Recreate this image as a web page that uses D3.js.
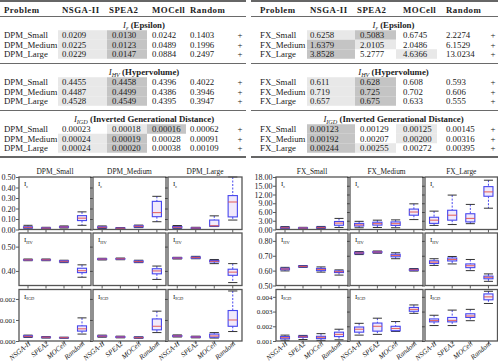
<!DOCTYPE html>
<html>
<head>
<meta charset="utf-8">
<title>DPM / FX indicators</title>
<style>
  body { margin: 0; background: #fff; }
  svg { display: block; }
  text { font-family: "Liberation Serif", "DejaVu Serif", serif; fill: #222; }
</style>
</head>
<body>
<div id="chart"></div>
<script src="https://cdnjs.cloudflare.com/ajax/libs/d3/7.8.5/d3.min.js"></script>
<script>
var algorithms = ["NSGA-II", "SPEA2", "MOCell", "Random"];
var dpmProblems = ["DPM_Small", "DPM_Medium", "DPM_Large"];
var fxProblems = ["FX_Small", "FX_Medium", "FX_Large"];
var indicatorSubs = ["\u03b5", "HV", "IGD"];
var indicatorNames = ["(Epsilon)", "(Hypervolume)", "(Inverted Generational Distance)"];
var lowerIsBetter = [true, false, true];

// table values, one row per problem, one value per algorithm
var dpmEpsilon = [["0.0209", "0.0130", "0.0242", "0.1403"],
                  ["0.0225", "0.0123", "0.0489", "0.1996"],
                  ["0.0229", "0.0147", "0.0884", "0.2497"]];
var dpmHypervolume = [["0.4455", "0.4458", "0.4396", "0.4022"],
                      ["0.4487", "0.4499", "0.4386", "0.3946"],
                      ["0.4528", "0.4549", "0.4395", "0.3947"]];
var dpmIGD = [["0.00023", "0.00018", "0.00016", "0.00062"],
              ["0.00024", "0.00019", "0.00028", "0.00091"],
              ["0.00024", "0.00020", "0.00038", "0.00109"]];
var fxEpsilon = [["0.6258", "0.5083", "0.6745", "2.2274"],
                 ["1.6379", "2.0105", "2.0486", "6.1529"],
                 ["3.8528", "5.2777", "4.6366", "13.0234"]];
var fxHypervolume = [["0.611", "0.628", "0.608", "0.593"],
                     ["0.719", "0.725", "0.702", "0.606"],
                     ["0.657", "0.675", "0.633", "0.555"]];
var fxIGD = [["0.00123", "0.00129", "0.00125", "0.00145"],
             ["0.00192", "0.00207", "0.00200", "0.00316"],
             ["0.00244", "0.00255", "0.00272", "0.00395"]];

// boxplots: [low whisker, q1, median, q3, high whisker] per algorithm, per problem
var dpmEpsBoxes = [
  [[0.006, 0.014, 0.020, 0.026, 0.040], [0.006, 0.010, 0.013, 0.016, 0.021], [0.014, 0.020, 0.024, 0.028, 0.034], [0.040, 0.085, 0.108, 0.132, 0.168]],
  [[0.010, 0.016, 0.021, 0.026, 0.034], [0.006, 0.009, 0.012, 0.015, 0.019], [0.018, 0.024, 0.030, 0.036, 0.042], [0.074, 0.122, 0.161, 0.268, 0.316]],
  [[0.008, 0.015, 0.021, 0.028, 0.038], [0.007, 0.010, 0.014, 0.017, 0.021], [0.028, 0.032, 0.036, 0.090, 0.130], [0.090, 0.120, 0.262, 0.323, 0.500]]];
var dpmHVBoxes = [
  [[0.442, 0.4445, 0.4455, 0.4465, 0.449], [0.442, 0.4445, 0.4458, 0.447, 0.449], [0.434, 0.437, 0.4396, 0.442, 0.444], [0.374, 0.393, 0.401, 0.411, 0.425]],
  [[0.445, 0.447, 0.4487, 0.450, 0.452], [0.446, 0.4485, 0.4499, 0.451, 0.453], [0.434, 0.4365, 0.4386, 0.441, 0.444], [0.365, 0.388, 0.400, 0.409, 0.420]],
  [[0.449, 0.451, 0.4528, 0.4545, 0.456], [0.450, 0.4525, 0.4549, 0.457, 0.460], [0.430, 0.437, 0.4395, 0.443, 0.447], [0.352, 0.382, 0.395, 0.407, 0.430]]];
var dpmIGDBoxes = [
  [[0.00017, 0.00020, 0.00022, 0.00025, 0.00028], [0.00014, 0.00016, 0.00018, 0.00019, 0.00021], [0.00013, 0.00015, 0.00016, 0.00017, 0.00018], [0.00033, 0.00047, 0.00058, 0.00072, 0.00110]],
  [[0.00018, 0.00021, 0.00023, 0.00025, 0.00028], [0.00015, 0.00017, 0.00019, 0.00021, 0.00023], [0.00013, 0.00015, 0.00016, 0.00018, 0.00020], [0.00040, 0.00053, 0.00070, 0.00105, 0.00142]],
  [[0.00019, 0.00022, 0.00024, 0.00026, 0.00029], [0.00015, 0.00017, 0.00019, 0.00021, 0.00023], [0.00014, 0.00018, 0.00024, 0.00033, 0.00040], [0.00045, 0.00070, 0.00100, 0.00145, 0.00238]]];
var fxEpsBoxes = [
  [[0.30, 0.45, 0.60, 0.75, 1.00], [0.30, 0.40, 0.50, 0.60, 0.75], [0.35, 0.50, 0.65, 0.80, 1.05], [0.70, 1.45, 2.20, 2.75, 3.80]],
  [[0.60, 1.20, 1.60, 2.10, 2.80], [0.70, 1.50, 2.00, 2.50, 3.20], [0.60, 1.40, 2.00, 2.60, 3.30], [3.40, 4.90, 6.00, 7.00, 8.80]],
  [[1.40, 2.10, 3.20, 4.20, 6.30], [1.70, 3.20, 4.90, 6.60, 11.80], [2.00, 2.60, 3.80, 5.40, 8.60], [7.30, 11.40, 12.90, 14.70, 16.90]]];
var fxHVBoxes = [
  [[0.598, 0.606, 0.611, 0.616, 0.622], [0.622, 0.625, 0.628, 0.631, 0.634], [0.590, 0.600, 0.608, 0.615, 0.625], [0.570, 0.587, 0.593, 0.598, 0.605]],
  [[0.708, 0.714, 0.719, 0.723, 0.728], [0.717, 0.721, 0.725, 0.728, 0.732], [0.680, 0.693, 0.702, 0.710, 0.720], [0.597, 0.602, 0.606, 0.609, 0.614]],
  [[0.635, 0.648, 0.657, 0.666, 0.680], [0.645, 0.665, 0.675, 0.685, 0.695], [0.600, 0.620, 0.633, 0.645, 0.675], [0.528, 0.545, 0.555, 0.563, 0.578]]];
var fxIGDBoxes = [
  [[0.00105, 0.00115, 0.00123, 0.00130, 0.00140], [0.00110, 0.00125, 0.00129, 0.00133, 0.00138], [0.00104, 0.00116, 0.00125, 0.00132, 0.00150], [0.00108, 0.00130, 0.00145, 0.00160, 0.00180]],
  [[0.00140, 0.00160, 0.00180, 0.00195, 0.00220], [0.00145, 0.00167, 0.00200, 0.00222, 0.00255], [0.00165, 0.00170, 0.00185, 0.00200, 0.00232], [0.00288, 0.00302, 0.00315, 0.00328, 0.00345]],
  [[0.00205, 0.00230, 0.00239, 0.00250, 0.00275], [0.00205, 0.00230, 0.00240, 0.00260, 0.00310], [0.00238, 0.00260, 0.00270, 0.00285, 0.00315], [0.00355, 0.00380, 0.00400, 0.00420, 0.00438]]];

// y axes of the three indicator rows
var dpmDomains = [[0, 0.5], [0.34, 0.556], [0, 0.00245]];
var dpmTicks = [[0, 0.1, 0.2, 0.3, 0.4, 0.5], [0.4, 0.5], [0, 0.001, 0.002]];
var fxDomains = [[0, 18], [0.5, 0.853], [0.001, 0.0045]];
var fxTicks = [[0, 3, 6, 9, 12, 15, 18], [0.5, 0.6, 0.7, 0.8], [0.001, 0.002, 0.003, 0.004]];
var tickFormats = [".2f", ".2f", ".3f"];

var width = 498, height = 361;
var svg = d3.select("#chart").append("svg")
    .attr("width", width)
    .attr("height", height);

var best = "#c4c4c4", second = "#e8e8e8";
var boxBlue = "#4646ee", medRed = "#e2524c";

// ---------- tables ----------
var headerY = 9.5, sectionTops = [16.5, 63.5, 110.5], sectionH = 46.5, rowStep = 9.5;

function drawTable(x0, x1, problems, tables, cellX, textX, labelX, plusX) {
  var g = svg.append("g");
  var titleCx = (cellX[0] + cellX[4]) / 2;

  g.append("line").attr("x1", x0).attr("x2", x1).attr("y1", 1).attr("y2", 1)
   .attr("stroke", "#333").attr("stroke-width", 1.4);

  g.append("text").attr("x", labelX).attr("y", headerY).attr("dy", "0.35em")
   .attr("font-size", 8.8).attr("font-weight", "bold").attr("letter-spacing", 0.5)
   .text("Problem");
  algorithms.forEach(function(a, i) {
    g.append("text").attr("x", textX[i] + (i == 1 ? -3 : 0)).attr("y", headerY).attr("dy", "0.35em")
     .attr("font-size", 8.8).attr("font-weight", "bold").attr("letter-spacing", 0.5)
     .text(a);
  });

  tables.forEach(function(rows, s) {
    var top = sectionTops[s];
    g.append("line").attr("x1", x0).attr("x2", x1).attr("y1", top).attr("y2", top)
     .attr("stroke", "#444").attr("stroke-width", 0.8);

    var t = g.append("text").attr("x", titleCx).attr("y", top + 8.5).attr("dy", "0.35em")
     .attr("font-size", 8.8).attr("text-anchor", "middle");
    t.append("tspan").attr("font-style", "italic").text("I");
    t.append("tspan").attr("font-style", "italic").attr("font-size", 6.2).attr("dy", "2").text(indicatorSubs[s]);
    t.append("tspan").attr("font-weight", "bold").attr("dy", "-2").text(" " + indicatorNames[s]);

    rows.forEach(function(vals, r) {
      var cy = top + 18.5 + r * rowStep;
      var nums = vals.map(Number);
      var order = d3.range(nums.length).sort(function(a, b) {
        return lowerIsBetter[s] ? nums[a] - nums[b] : nums[b] - nums[a];
      });
      [[order[0], best], [order[1], second]].forEach(function(o) {
        g.append("rect")
         .attr("x", cellX[o[0]]).attr("width", cellX[o[0] + 1] - cellX[o[0]])
         .attr("y", cy - rowStep / 2).attr("height", rowStep)
         .attr("fill", o[1]);
      });
      g.append("text").attr("x", labelX).attr("y", cy).attr("dy", "0.35em")
       .attr("font-size", 8.8).text(problems[r]);
      vals.forEach(function(v, i) {
        g.append("text").attr("x", textX[i]).attr("y", cy).attr("dy", "0.35em")
         .attr("font-size", 8.8).text(v);
      });
      g.append("text").attr("x", plusX).attr("y", cy).attr("dy", "0.35em")
       .attr("font-size", 8.8).attr("text-anchor", "middle").attr("fill", "#555").text("+");
    });
  });

  var bottom = sectionTops[2] + sectionH;
  g.append("line").attr("x1", x0).attr("x2", x1).attr("y1", bottom).attr("y2", bottom)
   .attr("stroke", "#333").attr("stroke-width", 1.4);
}

drawTable(0, 246, dpmProblems, [dpmEpsilon, dpmHypervolume, dpmIGD],
          [58, 107, 147, 186, 230], [62, 112, 152, 190], 4, 240);
drawTable(251, 498, fxProblems, [fxEpsilon, fxHypervolume, fxIGD],
          [307, 355, 396, 437, 480], [310, 360, 403, 446], 260, 493);

// ---------- boxplot grids ----------
var panelRows = [[177, 229.5], [233, 285.5], [289.5, 341]];

function drawGrid(problems, boxSets, domains, ticks, cols) {
  boxSets.forEach(function(sets, r) {
    sets.forEach(function(boxes, c) {
      var x0 = cols[c][0], x1 = cols[c][1];
      var y0 = panelRows[r][0], y1 = panelRows[r][1];
      var x = d3.scaleBand().domain(algorithms).range([x0, x1]);
      var y = d3.scaleLinear().domain(domains[r]).range([y1, y0]);
      var g = svg.append("g");

      var yAxis = d3.axisLeft(y).tickValues(ticks[r]).tickSize(3).tickPadding(0.5)
          .tickFormat(c === 0 ? d3.format(tickFormats[r]) : "");
      var ya = g.append("g").attr("transform", "translate(" + x0 + ",0)").call(yAxis);
      ya.select(".domain").remove();
      ya.selectAll("line").attr("stroke", "#333").attr("stroke-width", 0.8);
      ya.selectAll("text").attr("font-size", tickFormats[r] === ".3f" ? 7 : 8).attr("fill", "#222")
        .style("font-family", "'Liberation Serif', serif");

      var xAxis = d3.axisBottom(x).tickSize(3).tickFormat(r === 2 ? null : "");
      var xa = g.append("g").attr("transform", "translate(0," + y1 + ")").call(xAxis);
      xa.select(".domain").remove();
      xa.selectAll("line").attr("stroke", "#333").attr("stroke-width", 0.8);
      xa.selectAll("text").attr("font-size", 7.2).attr("fill", "#222")
        .style("font-family", "'Liberation Serif', serif").attr("font-style", "italic")
        .attr("text-anchor", "end").attr("dy", 0).attr("y", 0)
        .attr("transform", "translate(3,3.5) rotate(-40)");

      var bw = x.bandwidth() * 0.5;
      boxes.forEach(function(b, i) {
        var cx = x(algorithms[i]) + x.bandwidth() / 2;
        var bg = g.append("g");
        bg.append("line").attr("x1", cx).attr("x2", cx).attr("y1", y(b[4])).attr("y2", y(b[3]))
          .attr("stroke", boxBlue).attr("stroke-width", 1).attr("stroke-dasharray", "2,1.5");
        bg.append("line").attr("x1", cx).attr("x2", cx).attr("y1", y(b[1])).attr("y2", y(b[0]))
          .attr("stroke", boxBlue).attr("stroke-width", 1).attr("stroke-dasharray", "2,1.5");
        [b[0], b[4]].forEach(function(v) {
          bg.append("line").attr("x1", cx - bw / 2).attr("x2", cx + bw / 2)
            .attr("y1", y(v)).attr("y2", y(v)).attr("stroke", "#333").attr("stroke-width", 1);
        });
        bg.append("rect").attr("x", cx - bw / 2).attr("width", bw)
          .attr("y", y(b[3])).attr("height", Math.max(y(b[1]) - y(b[3]), 0.5))
          .attr("fill", "#f1e9fb").attr("stroke", boxBlue).attr("stroke-width", 1.1);
        bg.append("line").attr("x1", cx - bw / 2).attr("x2", cx + bw / 2)
          .attr("y1", y(b[2])).attr("y2", y(b[2])).attr("stroke", medRed)
          .attr("stroke-width", 1.1).attr("stroke-opacity", 0.85);
      });

      g.append("rect").attr("x", x0).attr("y", y0).attr("width", x1 - x0).attr("height", y1 - y0)
       .attr("fill", "none").attr("stroke", "#555").attr("stroke-width", 1.3);

      var lab = g.append("text").attr("x", x0 + 5).attr("y", y0 + 9).attr("font-size", 7);
      lab.append("tspan").text("I");
      lab.append("tspan").attr("font-size", 4.5).attr("dy", 1.5).text(indicatorSubs[r]);

      if (r === 0) {
        g.append("text").attr("x", (x0 + x1) / 2).attr("y", y0 - 3.5)
         .attr("text-anchor", "middle").attr("font-size", 7.4).text(problems[c]);
      }
    });
  });
}

drawGrid(dpmProblems, [dpmEpsBoxes, dpmHVBoxes, dpmIGDBoxes], dpmDomains, dpmTicks,
         [[19, 91], [93, 166], [168, 242]]);
drawGrid(fxProblems, [fxEpsBoxes, fxHVBoxes, fxIGDBoxes], fxDomains, fxTicks,
         [[276, 348], [350, 423], [425, 497.5]]);
</script>
</body>
</html>
